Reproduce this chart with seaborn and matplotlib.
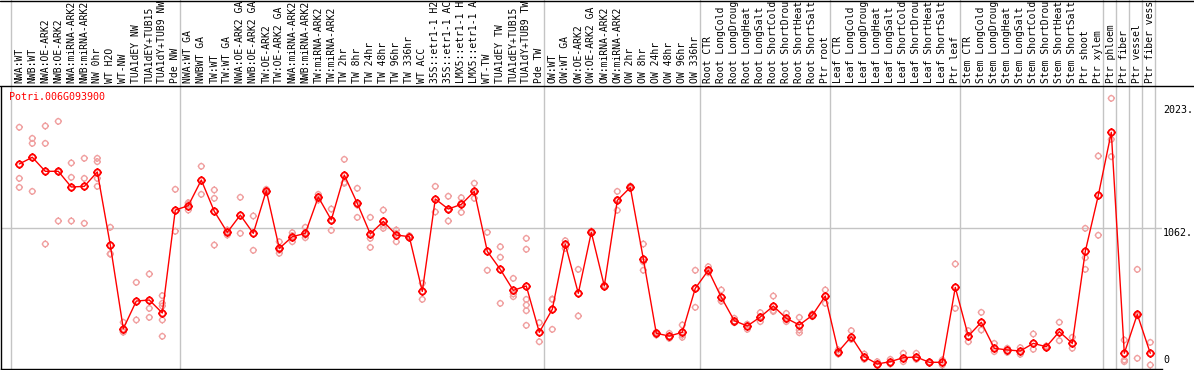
import matplotlib
matplotlib.use("Agg")
import matplotlib.pyplot as plt
import matplotlib.transforms as mtransforms
from matplotlib.lines import Line2D
from matplotlib.path import Path
import pandas as pd
import seaborn as sns

gene = "Potri.006G093900"

labels = [
    "NWA:WT", "NWB:WT", "NWA:OE-ARK2", "NWB:OE-ARK2", "NWA:miRNA-ARK2", "NWB:miRNA-ARK2",
    "NW 0hr", "WT H2O", "WT-NW", "TUA1dEY NW", "TUA1dEY+TUB15 NW", "TUA1dY+TUB9 NW", "Pde NW",
    "NWA:WT GA", "NWBWT GA", "TW:WT", "TW:WT GA", "NWA:OE-ARK2 GA", "NWB:OE-ARK2 GA",
    "TW:OE-ARK2", "TW:OE-ARK2 GA", "NWA:miRNA-ARK2 GA", "NWB:miRNA-ARK2 GA", "TW:miRNA-ARK2",
    "TW:miRNA-ARK2 GA", "TW 2hr", "TW 8hr", "TW 24hr", "TW 48hr", "TW 96hr", "TW 336hr",
    "WT ACC", "35S::etr1-1 H2O", "35S::etr1-1 ACC", "LMX5::etr1-1 H2O", "LMX5::etr1-1 ACC",
    "WT-TW", "TUA1dEY TW", "TUA1dEY+TUB15 TW", "TUA1dY+TUB9 TW", "Pde TW",
    "OW:WT", "OW:WT GA", "OW:OE-ARK2", "OW:OE-ARK2 GA", "OW:miRNA-ARK2", "OW:miRNA-ARK2 GA",
    "OW 2hr", "OW 8hr", "OW 24hr", "OW 48hr", "OW 96hr", "OW 336hr",
    "Root CTR", "Root LongCold", "Root LongDrought", "Root LongHeat", "Root LongSalt",
    "Root ShortCold", "Root ShortDrought", "Root ShortHeat", "Root ShortSalt", "Ptr root",
    "Leaf CTR", "Leaf LongCold", "Leaf LongDrought", "Leaf LongHeat", "Leaf LongSalt",
    "Leaf ShortCold", "Leaf ShortDrought", "Leaf ShortHeat", "Leaf ShortSalt", "Ptr leaf",
    "Stem CTR", "Stem LongCold", "Stem LongDrought", "Stem LongHeat", "Stem LongSalt",
    "Stem ShortCold", "Stem ShortDrought", "Stem ShortHeat", "Stem ShortSalt", "Ptr shoot",
    "Ptr xylem", "Ptr phloem", "Ptr fiber", "Ptr vessel", "Ptr fiber vessel",
]

means = [
    1562, 1614, 1505, 1505, 1383, 1388, 1500, 932, 282, 497, 505, 404, 1204,
    1238, 1437, 1194, 1031, 1165, 1023, 1355, 906, 997, 1023, 1305, 1127, 1476, 1256,
    1018, 1116, 1010, 997, 572, 1290, 1212, 1248, 1349, 883, 743, 580, 614, 254,
    433, 938, 557, 1031, 614, 1279, 1380, 826, 246, 225, 254, 596,
    736, 526, 344, 303, 373, 458, 363, 311, 386, 536,
    104, 220, 65, 8, 26, 57, 62, 21, 21, 603,
    225, 332, 130, 117, 109, 168, 142, 259, 168, 883, 1318,
    1808, 91, 394, 91,
]

replicates = [
    [1847, 1450, 1380], [1761, 1722, 1349], [1857, 1722, 940], [1893, 1119, 1503],
    [1570, 1458, 1119], [1606, 1450, 1101], [1606, 1580, 1450, 1388], [1070, 862, 864],
    [332, 259, 255], [642, 350], [707, 440, 370], [539, 479, 458, 350, 223], [1365, 1039],
    [1261, 1204, 1250], [1544, 1326], [1360, 1295, 932], [1049, 1010, 1034], [1303, 1023],
    [1158, 891], [1365, 1339, 1360], [958, 868, 892], [1028, 958, 1005], [1070, 989, 1010],
    [1326, 1282, 1307], [1212, 1046, 1123], [1598, 1412, 1418], [1373, 1243, 1147],
    [1147, 984, 914], [1204, 1062, 1082], [1049, 958, 1023], [1005, 990, 997],
    [635, 510], [1388, 1189], [1311, 1119, 1206], [1300, 1186, 1258], [1412, 1295, 1340],
    [1031, 736], [919, 837, 479], [673, 552, 531], [984, 899, 510, 466, 422, 308], [329, 181],
    [510, 277, 512], [966, 906], [743, 381], [1040, 1025, 1028], [620, 610, 612],
    [1349, 1202, 1286], [1390, 1372, 1378], [940, 736, 802], [251, 233, 254],
    [246, 207, 222], [311, 233, 215], [736, 448],
    [764, 717, 727], [583, 500, 495], [363, 329, 340], [316, 277, 316], [407, 337, 375],
    [536, 422, 416], [401, 337, 351], [370, 272, 251], [396, 376], [583, 479],
    [117, 85], [267, 199], [85, 44], [26, 0], [44, 8], [91, 26], [91, 44], [24, 18],
    [0, 39], [785, 440],
    [267, 181], [409, 272], [168, 104], [130, 98], [135, 83], [241, 122], [148, 137],
    [332, 189], [215, 130], [1062, 834, 743], [1624, 1008],
    [2072, 1753, 1619], [194, 39, 26], [743, 383, 52], [176, 0],
]

# last sample index of each group (group borders)
group_ends = [-1, 12, 40, 52, 62, 72, 83, 84, 85, 86, 87]
axis_marks = [0, 1062, 2023]

W, H = 1194, 370
PINK = "#f0a0a0"
GRID = "#c4c4c4"

sns.set_style("white")
plt.rcParams["font.family"] = ["DejaVu Sans Mono"]


def fx(px):
    return px / W


def fy(py):
    return 1 - py / H


# circle with four short ticks, like the original markers
ring = Path.make_compound_path(
    Path.unit_circle(),
    Path(
        [(1, 0), (1.35, 0), (-1, 0), (-1.35, 0), (0, 1), (0, 1.35), (0, -1), (0, -1.35)],
        [Path.MOVETO, Path.LINETO] * 4,
    ),
)

fig = plt.figure(figsize=(W / 100, H / 100), dpi=100)
ax = fig.add_axes([fx(1), fy(369), fx(1162) - fx(1), fy(86) - fy(369)])
hax = fig.add_axes([fx(1), fy(86), fx(1162) - fx(1), fy(0) - fy(86)])

x0 = (1 - 19.3) / 13
x1 = (1162 - 19.3) / 13
for a in (ax, hax):
    a.set_xlim(x0, x1)
    a.set_xticks([])
    a.set_yticks([])
ax.set_ylim((365 - 369) / 0.1287, (365 - 86) / 0.1287)
hax.set_ylim(0, 1)

rep_df = pd.DataFrame(
    [(i, v) for i, vals in enumerate(replicates) for v in vals], columns=["sample", "value"]
)
mean_df = pd.DataFrame({"sample": range(len(means)), "value": means})

for g in group_ends:
    ax.axvline(g + 0.37, color=GRID, lw=1, zorder=0)
    hax.axvline(g + 0.37, color=GRID, lw=1, zorder=0)
ax.axhline(1062, color=GRID, lw=1, zorder=0)

sns.scatterplot(
    data=rep_df, x="sample", y="value", marker=ring, s=27,
    facecolor="none", edgecolor=PINK, linewidth=1, ax=ax, zorder=2, legend=False,
)
sns.lineplot(
    data=mean_df, x="sample", y="value", color="red", lw=1, marker=ring, ms=6.0,
    mfc="none", mec="red", mew=1.3, ax=ax, zorder=3,
)
ax.set_xlabel("")
ax.set_ylabel("")

for side in ("top", "right"):
    ax.spines[side].set_visible(False)
for side in ("left", "bottom"):
    ax.spines[side].set_color("black")
    ax.spines[side].set_linewidth(1)
for side in hax.spines:
    hax.spines[side].set_visible(False)

# the header only has room for 14 characters per sample name
htrans = mtransforms.blended_transform_factory(hax.transData, hax.transAxes)
for i, lab in enumerate(labels):
    hax.text(i, 0.03, lab[:14].rstrip(), rotation=90, ha="center", va="bottom",
             transform=htrans, fontsize=7.0, color="black")

fig.add_artist(Line2D([0, 1], [fy(86)] * 2, transform=fig.transFigure, color="black", lw=1))
fig.add_artist(Line2D([0, 1], [fy(0.5)] * 2, transform=fig.transFigure, color="black", lw=1))

rtrans = mtransforms.blended_transform_factory(fig.transFigure, ax.transData)
for v in axis_marks:
    txt = f"{v}." if v else "0"
    ax.text(fx(1163), v, txt, transform=rtrans, va="bottom" if v == 0 else "top",
            ha="left", fontsize=7.2, color="black")

fig.text(fx(9), fy(92), gene, color="red", fontsize=7.2, va="top", ha="left")

fig.savefig("out.png", dpi=100)
